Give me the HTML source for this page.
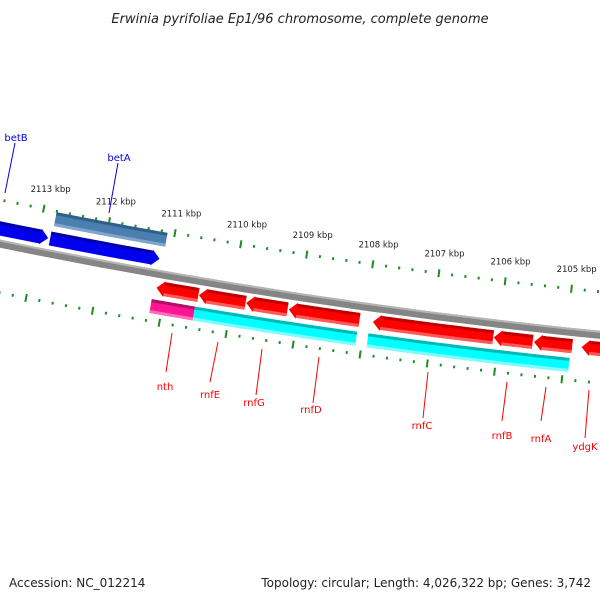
<!DOCTYPE html>
<html><head><meta charset="utf-8"><style>
html,body{margin:0;padding:0;background:#fff;}
svg{display:block;font-family:"DejaVu Sans","Liberation Sans",sans-serif;}
</style></head><body>
<svg id="map" width="600" height="600" viewBox="0 0 600 600">
<text x="300" y="23" text-anchor="middle" font-size="13" font-style="italic" fill="#222">Erwinia pyrifoliae Ep1/96 chromosome, complete genome</text>
<text x="9" y="587" font-size="12" fill="#222">Accession: NC_012214</text>
<text x="591" y="587" text-anchor="end" font-size="12" fill="#222">Topology: circular; Length: 4,026,322 bp; Genes: 3,742</text>
<g id="layer"></g>
</svg>
<script>
// tick range (kbp)
const tickStartKbp = 2103.8;
const tickEndKbp = 2114.4;
const tickStep = 0.2;
const majorTickLabels = [2105, 2106, 2107, 2108, 2109, 2110, 2111, 2112, 2113];
// forward-strand genes (kbp)
const fwdNames = ["betB", "betA"];
const fwdStart = [2114.6, 2112.82];
const fwdEnd = [2112.85, 2111.16];
// betA feature band (kbp)
const featStart = [2112.80];
const featEnd = [2111.11];
// reverse-strand genes (kbp)
const revNames = ["nth", "rnfE", "rnfG", "rnfD", "rnfC", "rnfB", "rnfA", "ydgK"];
const revStart = [2111.13, 2110.49, 2109.78, 2109.14, 2107.88, 2106.07, 2105.47, 2104.76];
const revEnd = [2110.50, 2109.79, 2109.16, 2108.08, 2106.08, 2105.49, 2104.90, 2103.6];
// cyan/magenta row (kbp)
const rowStart = [2111.17, 2110.52, 2109.17, 2107.92, 2105.51];
const rowEnd = [2110.52, 2109.17, 2108.09, 2105.51, 2104.92];
const rowColor = ["magenta", "cyan", "cyan", "cyan", "cyan"];

const NS = "http://www.w3.org/2000/svg";
const layer = document.getElementById("layer");
const CX = 1200, CY = -5634;
function ang(kbp){ return 0.18417 + (kbp - 2112) * 0.011207; }
function pt(r, a){ return [CX - r * Math.sin(a), CY + r * Math.cos(a)]; }
function el(tag, attrs){ const e = document.createElementNS(NS, tag); for (const k in attrs) e.setAttribute(k, attrs[k]); layer.appendChild(e); return e; }
function arcPts(r, a0, a1, n){ const p = []; for (let i = 0; i <= n; i++){ const a = a0 + (a1 - a0) * i / n; p.push(pt(r, a)); } return p; }
function poly(points, fill){ return el("polygon", {points: points.map(p => p[0].toFixed(2) + "," + p[1].toFixed(2)).join(" "), fill: fill}); }
function band(r1, r2, a0, a1, fill){ return poly(arcPts(r1, a0, a1, 12).concat(arcPts(r2, a1, a0, 12)), fill); }
function arrow(r1, r2, aFrom, aTo, dir, fill){
  const head = 8 / r1;
  const lo = Math.min(aFrom, aTo), hi = Math.max(aFrom, aTo);
  let pts;
  const mid = (r1 + r2) / 2;
  if (dir > 0){
    const b = Math.max(lo, hi - head);
    pts = arcPts(r1, lo, b, 10).concat([pt(r1 - 1, b), pt(mid, hi), pt(r2 + 1, b)]).concat(arcPts(r2, b, lo, 10));
  } else {
    const b = Math.min(hi, lo + head);
    pts = arcPts(r1, hi, b, 10).concat([pt(r1 - 1, b), pt(mid, lo), pt(r2 + 1, b)]).concat(arcPts(r2, b, hi, 10));
  }
  return poly(pts, fill);
}

// backbone
const bb = band(5995, 6003, ang(2115), ang(2103), "#858585");


const bbh = band(5995, 5997, ang(2115), ang(2103), "#b5b5b5");



// ticks
const nT = Math.round((tickEndKbp - tickStartKbp) / tickStep);
for (let i = 0; i <= nT; i++){
  const k = tickStartKbp + i * tickStep;
  const major = Math.abs(k - Math.round(k)) < 1e-6;
  const a = ang(k);
  [[5956, 'upper'], [6047, 'lower']].forEach(([rc, ring]) => {
    const h = major ? 4 : 1.4;
    const p1 = pt(rc - h, a), p2 = pt(rc + h, a);
    const t = el("line", {x1: p1[0], y1: p1[1], x2: p2[0], y2: p2[1], stroke: "#1e8c1e", "stroke-width": 2});
    
    
  });
}
majorTickLabels.forEach(k => {
  const p = pt(5936, ang(k));
  const t = el("text", {x: p[0] + 3, y: p[1] + 3, "text-anchor": "middle", "font-size": 8.5, fill: "#222"});
  t.textContent = k + " kbp";
  
  
});

// steelblue feature
featStart.forEach((s, i) => {
  const g = band(5957, 5971, ang(s), ang(featEnd[i]), "#4a7fb0");
  
  
  const d = band(5957, 5960, ang(s), ang(featEnd[i]), "#2f5f8a");
  
  
  const l = band(5968, 5971, ang(s), ang(featEnd[i]), "#7ea6cc");
  
  
});
// forward genes
fwdStart.forEach((s, i) => {
  const g = arrow(5977, 5991, ang(s), ang(fwdEnd[i]), -1, "#0000ee");
  
  
  const d = band(5977, 5980, ang(s), ang(fwdEnd[i]) + 8 / 5977, "#0000a8");
  
  
});
// reverse genes
revStart.forEach((s, i) => {
  const g = arrow(6006, 6020, ang(revEnd[i]), ang(s), 1, "#ff0000");
  
  
  const d = band(6006, 6009, ang(revEnd[i]), ang(s) - 8 / 6006, "#c00000");
  
  
  const l = band(6017, 6020, ang(revEnd[i]), ang(s) - 8 / 6006, "#ff5a5a");
  
  
});
// cyan/magenta row
rowStart.forEach((s, i) => {
  const main = rowColor[i] === "magenta" ? "#ff1493" : "#00ffff";
  const dark = rowColor[i] === "magenta" ? "#b0106a" : "#00b8b8";
  const light = rowColor[i] === "magenta" ? "#ff6fb5" : "#7ffcfc";
  const g = band(6025, 6039, ang(s), ang(rowEnd[i]), main);
  
  
  const d = band(6025, 6028, ang(s), ang(rowEnd[i]), dark);
  
  
  const l = band(6036, 6039, ang(s), ang(rowEnd[i]), light);
  
  
});

// labels
const labelNames = ["betB", "betA", "nth", "rnfE", "rnfG", "rnfD", "rnfC", "rnfB", "rnfA", "ydgK"];
const labelColor = ["#0000ee", "#0000ee", "red", "red", "red", "red", "red", "red", "red", "red"];
const lineA = [[15,143],[118,163],[172,333],[218,342],[262,349],[319,357],[428,372],[507,382],[546,387],[589,390]];
const lineB = [[5,193],[109,213],[166,372],[210,382],[256,395],[313,403],[423,418],[502,421],[541,421],[585,438]];
const textPos = [[16,141],[119,161],[165,390],[210,398],[254,406],[311,413],[422,429],[502,439],[541,442],[585,450]];
labelNames.forEach((n, i) => {
  const l = el("line", {x1: lineA[i][0], y1: lineA[i][1], x2: lineB[i][0], y2: lineB[i][1], stroke: labelColor[i], "stroke-width": 1});
  
  
  const t = el("text", {x: textPos[i][0], y: textPos[i][1], "text-anchor": "middle", "font-size": 10, fill: labelColor[i]});
  t.textContent = n;
  
  
});
</script>
</body></html>
